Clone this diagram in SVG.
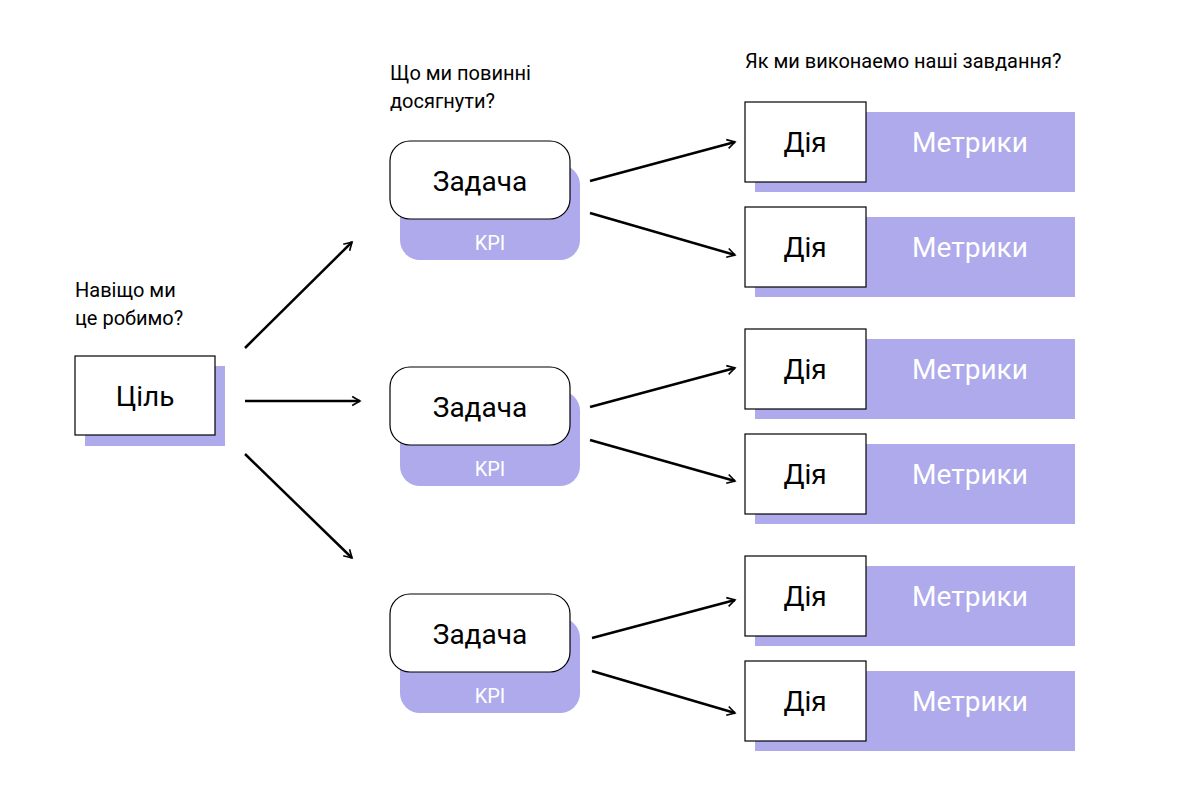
<svg xmlns="http://www.w3.org/2000/svg" width="1200" height="800" viewBox="0 0 1200 800">
<defs>
<style>
.sh{fill:#AEAAEB}
.bx{fill:#fff;stroke:#000;stroke-width:1.2}
.t{font-family:Roboto,"Liberation Sans",sans-serif;fill:#000}
.lb{font-size:20px}
.big{font-size:28px;text-anchor:middle}
.w{fill:#fff}
.c line{stroke:#000;stroke-width:2.5;marker-end:url(#a)}
</style>
<marker id="a" viewBox="0 0 14 14" refX="12" refY="7" markerWidth="7" markerHeight="7" markerUnits="userSpaceOnUse" orient="auto" overflow="visible">
<path d="M0,0 L12,7 L0,14" fill="none" stroke="#000" stroke-width="2.5" transform="scale(1.3) translate(-2.8,-1.6)"/>
</marker>
</defs>
<rect width="1200" height="800" fill="#fff"/>
<text class="t lb" x="75" y="297">Навіщо ми</text>
<text class="t lb" x="75" y="325">це робимо?</text>
<text class="t lb" x="390" y="80">Що ми повинні</text>
<text class="t lb" x="390" y="108">досягнути?</text>
<text class="t lb" x="745" y="68">Як ми виконаемо наші завдання?</text>
<g id="goal">
<rect class="sh" x="85" y="366" width="140" height="80"/>
<rect class="bx" x="75" y="356" width="140" height="79"/>
<text class="t big" x="145" y="406">Ціль</text>
</g>
<g id="task1">
<rect class="sh" x="400" y="165" width="180" height="95" rx="20"/>
<rect class="bx" x="390" y="141" width="180" height="78" rx="20"/>
<text class="t big" x="480" y="191">Задача</text>
<text class="t w" x="490" y="250" font-size="20" text-anchor="middle">KPI</text>
</g>
<g id="task2">
<rect class="sh" x="400" y="391" width="180" height="95" rx="20"/>
<rect class="bx" x="390" y="367" width="180" height="78" rx="20"/>
<text class="t big" x="480" y="417">Задача</text>
<text class="t w" x="490" y="476" font-size="20" text-anchor="middle">KPI</text>
</g>
<g id="task3">
<rect class="sh" x="400" y="618" width="180" height="95" rx="20"/>
<rect class="bx" x="390" y="594" width="180" height="78" rx="20"/>
<text class="t big" x="480" y="644">Задача</text>
<text class="t w" x="490" y="703" font-size="20" text-anchor="middle">KPI</text>
</g>
<g id="act1"><rect class="sh" x="755" y="112" width="320" height="80"/><rect class="bx" x="745" y="102" width="121" height="80"/><text class="t big" x="805" y="152">Дія</text><text class="t big w" x="970" y="152">Метрики</text></g>
<g id="act2"><rect class="sh" x="755" y="217" width="320" height="80"/><rect class="bx" x="745" y="207" width="121" height="80"/><text class="t big" x="805" y="257">Дія</text><text class="t big w" x="970" y="257">Метрики</text></g>
<g id="act3"><rect class="sh" x="755" y="339" width="320" height="80"/><rect class="bx" x="745" y="329" width="121" height="80"/><text class="t big" x="805" y="379">Дія</text><text class="t big w" x="970" y="379">Метрики</text></g>
<g id="act4"><rect class="sh" x="755" y="444" width="320" height="80"/><rect class="bx" x="745" y="434" width="121" height="80"/><text class="t big" x="805" y="484">Дія</text><text class="t big w" x="970" y="484">Метрики</text></g>
<g id="act5"><rect class="sh" x="755" y="566" width="320" height="80"/><rect class="bx" x="745" y="556" width="121" height="80"/><text class="t big" x="805" y="606">Дія</text><text class="t big w" x="970" y="606">Метрики</text></g>
<g id="act6"><rect class="sh" x="755" y="671" width="320" height="80"/><rect class="bx" x="745" y="661" width="121" height="80"/><text class="t big" x="805" y="711">Дія</text><text class="t big w" x="970" y="711">Метрики</text></g>
<g class="c" id="connectors">
<line x1="245" y1="348" x2="352" y2="242"/>
<line x1="245" y1="401" x2="360" y2="401"/>
<line x1="245" y1="454" x2="352" y2="558"/>
<line x1="590" y1="181" x2="735" y2="142"/>
<line x1="590" y1="213" x2="735" y2="255"/>
<line x1="590" y1="407" x2="735" y2="368"/>
<line x1="590" y1="440" x2="735" y2="481"/>
<line x1="592" y1="638" x2="735" y2="600"/>
<line x1="592" y1="671" x2="735" y2="713"/>
</g>
</svg>
